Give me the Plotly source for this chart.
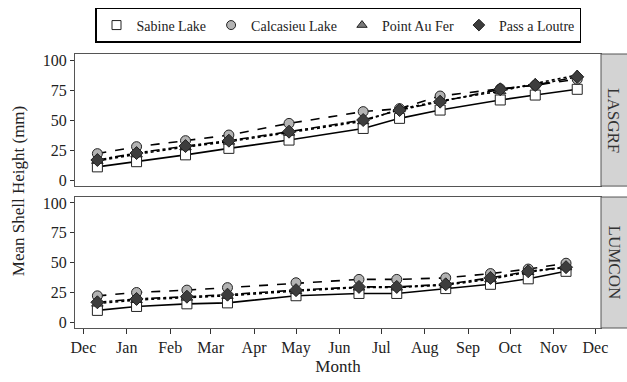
import plotly.graph_objects as go

# ---- data ----
series = ["Sabine Lake", "Calcasieu Lake", "Point Au Fer", "Pass a Loutre"]

dates_lasgrf = ["2011-12-11", "2012-01-08", "2012-02-12", "2012-03-14", "2012-04-26",
                "2012-06-18", "2012-07-14", "2012-08-12", "2012-09-24", "2012-10-19", "2012-11-18"]
lasgrf_sabine = [11, 15.3, 21, 26.4, 33.3, 43, 51.4, 58.3, 66.7, 70.8, 75.6]
lasgrf_calcasieu = [22, 27.8, 32.8, 37.5, 47.2, 57, 59.5, 70, 76, 79, 84]
lasgrf_pointaufer = [16, 21.5, 27.5, 32, 39.5, 49, 59, 66, 74, 80.5, 87.5]
lasgrf_passaloutre = [16.7, 22.5, 28.3, 32.8, 40.3, 50, 58.3, 65.3, 75.6, 79.2, 86]

dates_lumcon = ["2011-12-11", "2012-01-08", "2012-02-13", "2012-03-13", "2012-05-01",
                "2012-06-15", "2012-07-12", "2012-08-16", "2012-09-17", "2012-10-14", "2012-11-10"]
lumcon_sabine = [9.8, 13.1, 15.3, 16.1, 22.1, 24, 24, 28.1, 31.7, 36.3, 42.6]
lumcon_calcasieu = [22, 24.8, 26.8, 28.9, 33, 35.8, 35.8, 37.1, 40.7, 44.5, 49.4]
lumcon_pointaufer = [15.5, 18.5, 20.5, 22, 26, 29, 29, 31, 36, 42, 46]
lumcon_passaloutre = [16.6, 19.4, 21.3, 23, 26.8, 29.5, 29.5, 31.7, 37.1, 42.6, 46.1]

panels = ["LASGRF", "LUMCON"]
month_ticks = ["Dec", "Jan", "Feb", "Mar", "Apr", "May", "Jun", "Jul", "Aug", "Sep", "Oct", "Nov", "Dec"]
y_ticks = [0, 25, 50, 75, 100]

# ---- styles ----
dashes = ["solid", "dash", "dot", "dashdot"]
symbols = ["square", "circle", "triangle-up", "diamond"]
fills = ["white", "#b3b3b3", "#7a7a7a", "#3d3d3d"]
FONT = "Liberation Serif"

fig = go.Figure()
panel_data = [
    (dates_lasgrf, [lasgrf_sabine, lasgrf_calcasieu, lasgrf_pointaufer, lasgrf_passaloutre], "y"),
    (dates_lumcon, [lumcon_sabine, lumcon_calcasieu, lumcon_pointaufer, lumcon_passaloutre], "y2"),
]
for dates, vals, yax in panel_data:
    for i, name in enumerate(series):
        fig.add_trace(go.Scatter(
            x=dates, y=vals[i], mode="lines+markers", name=name, showlegend=False,
            xaxis="x", yaxis=yax,
            line=dict(color="black", width=1.6, dash=dashes[i]),
            marker=dict(symbol=symbols[i], size=10, color=fills[i],
                        line=dict(color="#222", width=1)),
        ))

for i, name in enumerate(series):
    fig.add_trace(go.Scatter(
        x=[None], y=[None], mode="markers", name=name, showlegend=True,
        marker=dict(symbol=symbols[i], size=9, color=fills[i], line=dict(color="#222", width=1)),
    ))

tickvals = ["2011-12-01", "2012-01-01", "2012-02-01", "2012-03-01", "2012-04-01", "2012-05-01",
            "2012-06-01", "2012-07-01", "2012-08-01", "2012-09-01", "2012-10-01", "2012-11-01", "2012-12-01"]

tickfont = dict(family=FONT, size=16, color="#222")
axis_common = dict(showline=True, mirror=True, linecolor="#555", linewidth=1,
                   showgrid=False, zeroline=False, automargin=False)

fig.update_layout(
    width=627, height=382,
    margin=dict(l=75, r=26, t=54, b=54, autoexpand=False),
    plot_bgcolor="white", paper_bgcolor="white",
    font=dict(family=FONT, size=15, color="#222"),
    xaxis=dict(type="date", range=["2011-11-25", "2012-12-05"], anchor="y2",
               tickvals=tickvals, ticktext=month_ticks, ticks="outside", ticklen=5,
               tickcolor="#333", tickfont=tickfont,
               title=dict(text="Month", standoff=3, font=dict(family=FONT, size=17)),
               **axis_common),
    yaxis=dict(domain=[0.518, 1], range=[-5, 105], tickvals=y_ticks, ticks="outside",
               ticklen=4, tickcolor="#333", tickfont=tickfont, **axis_common),
    yaxis2=dict(domain=[0, 0.478], range=[-5, 105], tickvals=y_ticks, ticks="outside",
                ticklen=4, tickcolor="#333", tickfont=tickfont, **axis_common),
    xaxis2=dict(type="date", range=["2011-11-25", "2012-12-05"], anchor="y",
                overlaying="x", showticklabels=False, ticks="", **axis_common),
    legend=dict(orientation="h", x=0.5, xanchor="center", y=1.168, yanchor="top",
                bordercolor="black", borderwidth=1.5,
                font=dict(family=FONT, size=14, color="#222"),
                itemwidth=30, tracegroupgap=0),
)
fig.add_trace(go.Scatter(x=[None], y=[None], xaxis="x2", yaxis="y", showlegend=False))

# facet strips
strip_x1 = 1 + 26 / 526
for dom, label in [((0.518, 1), panels[0]), ((0, 0.478), panels[1])]:
    fig.add_shape(type="rect", xref="paper", yref="paper", x0=1, x1=strip_x1 + 0.01,
                  y0=dom[0], y1=dom[1], fillcolor="#d3d3d3", line=dict(color="#555", width=1))
    fig.add_annotation(xref="paper", yref="paper", x=1 + 13 / 526, y=(dom[0] + dom[1]) / 2,
                       xanchor="center", yanchor="middle",
                       text=label, textangle=90, showarrow=False,
                       font=dict(family=FONT, size=17, color="#333"))

fig.add_annotation(xref="paper", yref="paper", x=-0.108, y=0.5, xanchor="center", yanchor="middle",
                   text="Mean Shell Height (mm)", textangle=-90, showarrow=False,
                   font=dict(family=FONT, size=17, color="#222"))

fig.write_html("out.html", config={"displayModeBar": False},
               post_script="document.body.style.margin='0';")
